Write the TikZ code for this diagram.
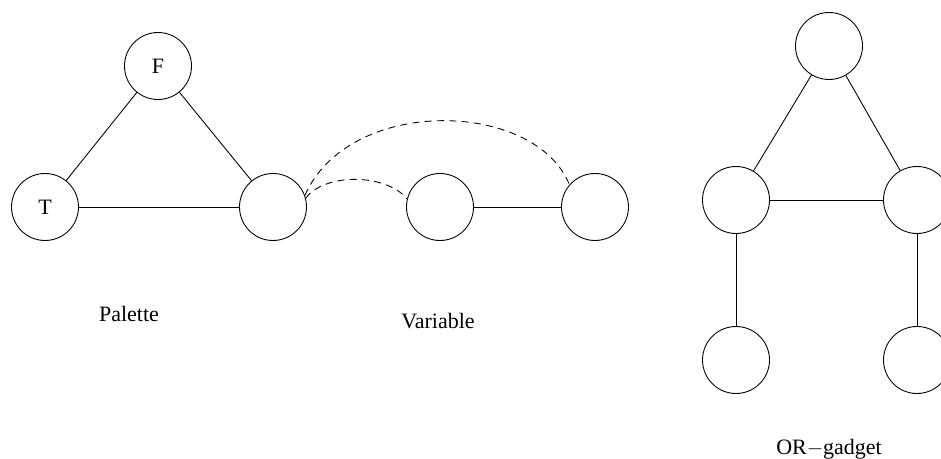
\documentclass[tikz,border=0pt]{standalone}
\usepackage{fontspec}
\setmainfont{Liberation Serif}
\usepackage{tikz}
\usetikzlibrary{positioning}

\tikzset{
    vertex/.style={draw, circle, minimum size=1.34cm, inner sep=0pt, line width=0.5pt},
    edge/.style={line width=0.5pt},
    link/.style={line width=0.5pt, dashed, dash pattern=on 4pt off 3pt},
    caption/.style={font=\fontsize{12.5}{15}\selectfont}
}

\begin{document}
\begin{tikzpicture}[x=0.02cm, y=-0.02cm, font=\fontsize{12.5}{15}\selectfont]
    \useasboundingbox (0,0) rectangle (941,459);

    % Palette triangle
    \node[vertex] (palF) at (158, 66) {F};
    \node[vertex] (palT) at (45, 207) {T};
    \node[vertex] (palX) at (273, 207) {};
    \draw[edge] (palF) -- (palT);
    \draw[edge] (palF) -- (palX);
    \draw[edge] (palT) -- (palX);
    \node[caption] (palLabel) at (129, 314) {Palette};

    % Variable pair
    \node[vertex] (varA) at (440, 207) {};
    \node[vertex] (varB) at (595, 207) {};
    \draw[edge] (varA) -- (varB);
    \node[caption] (varLabel) at (438, 321) {Variable};

    % Dashed links palette -> variable
    \draw[link] (palX.20) .. controls +(44,-100) and +(-34,-85) .. (varB.139);
    \draw[link] (palX.15) .. controls +(18,-25) and +(-22,-26) .. (varA.166);

    % OR gadget
    \node[vertex] (orTop) at (829, 46) {};
    \node[vertex] (orL) at (736, 200) {};
    \node[vertex] (orR) at (917, 200) {};
    \node[vertex] (orLL) at (736, 360) {};
    \node[vertex] (orRR) at (917, 360) {};
    \draw[edge] (orTop) -- (orL);
    \draw[edge] (orTop) -- (orR);
    \draw[edge] (orL) -- (orR);
    \draw[edge] (orL) -- (orLL);
    \draw[edge] (orR) -- (orRR);
    \node[caption] (orLabel) at (829, 449) {OR$-$gadget};
\end{tikzpicture}
\end{document}
